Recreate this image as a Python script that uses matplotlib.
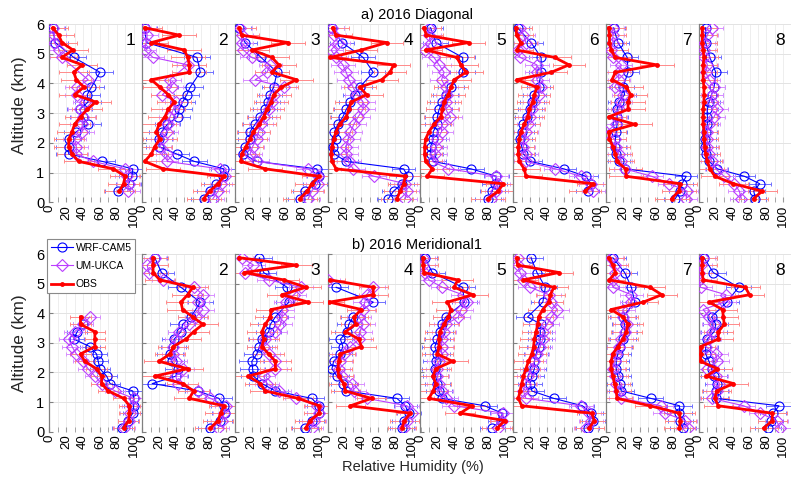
import numpy as np
import matplotlib
matplotlib.use('Agg')
import matplotlib.pyplot as plt

nan = np.nan

# Altitude bin centres (km)
altitude = [0.125, 0.375, 0.625, 0.875, 1.125, 1.375, 1.625, 1.875, 2.125, 2.375,
            2.625, 2.875, 3.125, 3.375, 3.625, 3.875, 4.125, 4.375, 4.625, 4.875,
            5.125, 5.375, 5.625, 5.875]

panel_labels = ['1', '2', '3', '4', '5', '6', '7', '8']
row_titles = ['a) 2016 Diagonal', 'b) 2016 Meridional1']
x_ticks = [0, 20, 40, 60, 80, 100]
y_ticks = [0, 1, 2, 3, 4, 5, 6]

# ---------------- a) 2016 Diagonal ----------------
diag_obs = [
    [nan, 83, 88, 90, 76, 35, 27, 23, 23, 27, 30, 37, 45, 55, 30, 41, 32, 29, 39, 15, 28, 15, 11, 4],
    [73, 80, 90, 97, 25, 3, 11, 15, 21, 17, 20, 27, 31, 38, 31, 21, 11, 56, 56, 54, 50, 11, 44, 3],
    [77, 86, 91, 100, 36, 7, 8, 13, 18, 22, 29, 34, 38, 43, 46, 55, 73, 44, 52, 44, 20, 63, 8, 5],
    [82, 86, 90, 92, 10, 5, 4, 5, 7, 10, 14, 22, 25, 28, 46, 38, 64, 74, 78, 3, 40, 70, 10, 6],
    [80, 92, 98, 8, 14, 6, 5, 5, 6, 10, 16, 24, 26, 28, 33, 36, 40, 54, 48, 43, 6, 57, 7, 4],
    [nan, 85, 95, 15, 13, 7, 6, 6, 7, 9, 13, 17, 19, 23, 25, 28, 4, 45, 66, 49, 4, 9, 4, 3],
    [78, 86, 88, 24, 23, 13, 11, 8, 4, 3, 34, 3, 26, 26, 29, 24, 7, 11, 60, 11, 6, 4, 4, 3],
    [65, 75, 41, 19, 13, 10, 8, 7, 6, 6, 5, 5, 5, 6, 6, 6, 5, 5, 5, 6, 5, 4, 4, 4],
]
diag_wrf = [
    [nan, 81, 94, 98, 99, 63, 23, 23, 23, 32, 46, 40, 36, 46, 45, 50, nan, 60, nan, 29, nan, 7, nan, 4],
    [73, 80, 88, 96, 97, 62, 41, 20, 20, 23, 30, 42, 44, 48, 53, 57, nan, 69, nan, 65, nan, 5, nan, 3],
    [77, 83, 95, 100, 97, 26, 10, 12, 18, 18, 24, 30, 36, 39, 42, 46, nan, 50, nan, 31, nan, 12, nan, 5],
    [72, 78, 88, 95, 90, 22, 8, 6, 10, 8, 12, 18, 22, 27, 32, 38, nan, 54, nan, 42, nan, 17, nan, 5],
    [80, 85, 88, 90, 60, 15, 12, 12, 15, 15, 20, 20, 22, 26, 30, 36, nan, 50, nan, 50, nan, 18, nan, 12],
    [nan, 88, 92, 86, 60, 20, 12, 10, 8, 10, 12, 16, 20, 22, 25, 30, nan, 33, nan, 33, nan, 21, nan, 5],
    [82, 88, 90, 95, 22, 15, 12, 11, 11, 12, 13, 13, 13, 15, 22, 20, nan, 26, nan, 25, nan, 14, nan, 9],
    [67, 65, 72, 54, 22, 12, 8, 7, 7, 8, 10, 10, 10, 12, 15, 18, nan, 20, nan, 13, nan, 8, nan, 8],
]
diag_um = [
    [nan, 93, 94, 92, 90, 52, 32, 32, 30, 39, 39, 40, 36, 42, 33, 33, 46, nan, nan, 15, 12, 6, 6, 4],
    [84, 90, 94, 98, 92, 30, 29, 21, 24, 29, 31, 33, 37, 40, 24, 35, 33, nan, 54, 13, 3, 5, 6, 4],
    [87, 91, 98, 98, 87, 26, 18, 21, 26, 28, 31, 35, 40, 44, 46, 58, 24, 38, 42, 20, 10, 8, 8, 6],
    [92, 94, 92, 55, 30, 25, 22, 22, 24, 27, 31, 36, 42, 42, 35, 30, 25, 22, 18, 10, 4, 12, 8, 5],
    [84, 90, 92, 90, 33, 14, 17, 18, 20, 25, 25, 35, 30, 30, 32, 30, 25, 28, 22, 16, 5, 12, 10, 10],
    [nan, 95, 92, 80, 50, 15, 15, 12, 12, 15, 18, 20, 22, 25, 30, 33, 28, 28, 28, 8, 5, 15, 12, 8],
    [95, 96, 75, 54, 22, 18, 15, 12, 10, 0, 12, 12, 15, 18, 20, 10, 15, 15, 18, 8, 6, 8, 8, 8],
    [50, 48, 42, 30, 20, 15, 12, 10, 10, 10, 12, 18, 22, 15, 15, 18, 12, 8, 10, 6, 6, 6, 10, 15],
]

# ---------------- b) 2016 Meridional1 ----------------
meri_obs = [
    [88, 94, 95, 95, 88, 70, 62, 62, 56, 42, 37, 54, 54, 54, 37, 37, nan, nan, nan, nan, nan, nan, nan, nan],
    [81, 90, 93, 97, 56, 61, 48, 15, 54, 20, 33, 37, 52, 61, 72, 60, 48, 46, 54, 60, 21, 13, 13, 13],
    [84, 89, 100, 100, 75, 36, 30, 16, 48, 48, 40, 32, 34, 32, 36, 42, 43, 87, 56, 84, 58, 11, 73, 5],
    [88, 91, 98, 27, 52, 21, 19, 13, 12, 13, 15, 40, 37, 21, 33, 31, 40, 2, 54, 54, 3, nan, nan, nan],
    [91, 100, 47, 61, 10, 15, 18, 15, 18, 38, 20, 22, 22, 23, 28, 33, 36, 32, 62, 40, 44, 4, 3, 3],
    [90, 96, 93, 10, 6, 8, 10, 12, 15, 18, 22, 24, 25, 27, 29, 30, 35, 42, 44, 48, 12, 54, 5, 4],
    [87, 88, 87, 52, 13, 12, 10, 8, 6, 6, 8, 14, 20, 24, 26, 20, 6, 44, 66, 52, 4, 11, 8, 3],
    [77, 87, 87, 23, 19, 21, 41, 9, 22, 2, 2, 2, 23, 23, 30, 29, 28, 12, 60, 55, 5, 4, 4, 4],
]
meri_wrf = [
    [86, 93, 99, 100, 100, 99, 72, 68, 60, 58, 56, 48, 29, 33, 40, nan, nan, nan, nan, nan, nan, nan, nan, nan],
    [81, 92, 98, 97, 91, 66, 12, 40, 42, 35, 33, 37, 38, 46, 48, 58, nan, 69, nan, 46, nan, 23, nan, 15],
    [83, 91, 100, 100, 91, 48, 32, 22, 21, 20, 26, 29, 32, 40, 42, 48, nan, 64, nan, 62, nan, 34, nan, 29],
    [88, 90, 96, 92, 82, 22, 18, 11, 5, 7, 15, 18, 15, 23, 25, 30, nan, 54, nan, 10, nan, nan, nan, nan],
    [85, 95, 97, 76, 25, 22, 20, 18, 17, 18, 20, 17, 20, 23, 25, 30, nan, 52, nan, 50, nan, 14, nan, 5],
    [88, 95, 92, 82, 48, 22, 20, 22, 25, 25, 27, 30, 32, 32, 33, 17, nan, 35, nan, 38, nan, 28, nan, 21],
    [91, 88, 87, 87, 53, 18, 16, 14, 12, 12, 14, 16, 20, 22, 22, 20, nan, 34, nan, 30, nan, 22, nan, 8],
    [82, 85, 88, 95, 20, 20, 22, 18, 15, 12, 8, 8, 10, 18, 20, 15, nan, 33, nan, 47, nan, 17, nan, 6],
]
meri_um = [
    [89, 94, 96, 98, 100, 78, 62, 54, 46, 40, 32, 27, 23, 30, 40, 48, nan, nan, nan, nan, nan, nan, nan, nan],
    [90, 95, 97, 99, 81, 66, 42, 40, 48, 40, 37, 37, 40, 44, 56, 64, 72, 66, 72, 62, 25, 8, 6, 15],
    [91, 94, 100, 97, 73, 52, 38, 34, 48, 47, 40, 34, 36, 48, 54, 56, 56, 60, 70, 78, 40, 12, 22, 8],
    [90, 94, 100, 94, 46, 31, 29, 17, 13, 15, 19, 27, 37, 38, 42, 37, 42, 44, 46, 54, 0, nan, nan, nan],
    [92, 97, 98, 40, 30, 25, 22, 20, 20, 22, 25, 25, 25, 28, 30, 45, 48, 55, 50, 26, 10, 5, 3, 3],
    [86, 92, 90, 80, 15, 12, 14, 18, 22, 25, 28, 32, 35, 35, 40, 45, 52, 45, 42, 20, 12, 8, 5, 5],
    [97, 94, 70, 65, 18, 15, 12, 10, 8, 10, 12, 15, 18, 22, 25, 20, 20, 30, 30, 8, 8, 10, 10, 6],
    [96, 92, 73, 53, 15, 22, 24, 20, 10, 22, 20, 8, 12, 15, 18, 12, 5, 30, 32, 2, 0, 0, 2, 5],
]

# typical half-width of the horizontal spread bars, per panel
diag_obs_err = [18, 20, 20, 19, 20, 19, 20, 17]
diag_wrf_err = [15, 15, 14, 14, 15, 14, 13, 13]
diag_um_err = [14, 13, 14, 14, 14, 14, 13, 13]
meri_obs_err = [12, 18, 18, 17, 18, 17, 18, 17]
meri_wrf_err = [12, 15, 15, 14, 15, 14, 15, 15]
meri_um_err = [12, 13, 14, 14, 14, 14, 14, 14]

# ---------------- styling ----------------
plt.rcParams['font.family'] = ['Liberation Sans', 'DejaVu Sans']
C_WRF = '#0000ff'
C_UM = '#bb3dff'
C_OBS = '#ff0000'
E_WRF = '#7070ff'
E_UM = '#d890ff'
E_OBS = '#ff8a8a'

fig = plt.figure(figsize=(7.91, 4.8), dpi=100)

W_PX = 791.0
H_PX = 480.0
left0 = 49.3 / W_PX
pw = 92.8 / W_PX
rows = [
    ((H_PX - 202.3) / H_PX, 178.3 / H_PX),
    ((H_PX - 431.7) / H_PX, 177.7 / H_PX),
]
alt = np.array(altitude)

datasets = [
    (diag_obs, diag_wrf, diag_um, diag_obs_err, diag_wrf_err, diag_um_err),
    (meri_obs, meri_wrf, meri_um, meri_obs_err, meri_wrf_err, meri_um_err),
]

legend_handles = None
for r, (bot, hgt) in enumerate(rows):
    obs_l, wrf_l, um_l, oe, we, ue = datasets[r]
    for i in range(8):
        ax = fig.add_axes([left0 + i * pw, bot, pw, hgt])
        ax.patch.set_alpha(0)
        ax.set_xlim(0, 110)
        ax.set_ylim(0, 6)
        for v in range(0, 111, 10):
            ax.axvline(v, color='#ebebeb', lw=0.6, zorder=0)
        for v in range(1, 7):
            ax.axhline(v, color='#e3e3e3', lw=0.7, zorder=0)

        hs = []
        for vals, err, col, ecol, kw in [
            (wrf_l[i], we[i], C_WRF, E_WRF, dict(marker='o', ms=6.5, mfc='none', lw=0.8, mew=0.8)),
            (um_l[i], ue[i], C_UM, E_UM, dict(marker='D', ms=5.8, mfc='none', lw=0.8, mew=0.8)),
            (obs_l[i], oe[i], C_OBS, E_OBS, dict(marker='o', ms=3.5, mfc=C_OBS, lw=2.0, mew=0)),
        ]:
            x = np.array(vals, dtype=float)
            m = ~np.isnan(x)
            ax.errorbar(x[m], alt[m], xerr=err, fmt='none', ecolor=ecol,
                        elinewidth=0.7, capsize=1.6, capthick=0.7, zorder=2)
            h, = ax.plot(x[m], alt[m], color=col, zorder=3, **kw)
            hs.append(h)
        if r == 1 and i == 0:
            legend_handles = hs

        for s in ['top', 'right', 'bottom']:
            ax.spines[s].set_visible(False)
        ax.spines['left'].set_color('#808080')
        ax.spines['left'].set_linewidth(0.9)

        ax.set_xticks(x_ticks)
        ax.set_xticks(range(10, 111, 10), minor=True)
        ax.set_xticklabels([str(t) for t in x_ticks], rotation=90, fontsize=9.5)
        ax.tick_params(axis='x', which='both', direction='in', length=3.5,
                       color='#9a9a9a', pad=2)
        ax.set_yticks(y_ticks)
        ax.tick_params(axis='y', direction='in', length=3, color='#808080', labelsize=10.5)
        if i != 0:
            ax.set_yticklabels([])
        ax.text(0.87, 0.905, panel_labels[i], transform=ax.transAxes,
                ha='center', va='center', fontsize=12.5)

# titles and labels
fig.text(417 / W_PX, 1 - 15 / H_PX, row_titles[0], ha='center', va='center', fontsize=10.5)
fig.text(417 / W_PX, 1 - 245 / H_PX, row_titles[1], ha='center', va='center', fontsize=10.5)
fig.text(413 / W_PX, 1 - 467 / H_PX, 'Relative Humidity (%)', ha='center', va='center',
         fontsize=10.5, color='#262626')
for yc in [105, 343]:
    fig.text(20 / W_PX, 1 - yc / H_PX, 'Altitude (km)', rotation=90, ha='center',
             va='center', fontsize=12.5, color='#262626')

leg = fig.legend(legend_handles, ['WRF-CAM5', 'UM-UKCA', 'OBS'],
                 loc='upper left', bbox_to_anchor=(47 / W_PX, 1 - 239 / H_PX),
                 fontsize=7.5, frameon=True, fancybox=False, framealpha=1,
                 edgecolor='#8a8a8a', borderpad=0.35, labelspacing=0.8,
                 handlelength=2.1, handletextpad=0.3, borderaxespad=0)
leg.get_frame().set_linewidth(0.8)

fig.savefig('out.png', dpi=100)
